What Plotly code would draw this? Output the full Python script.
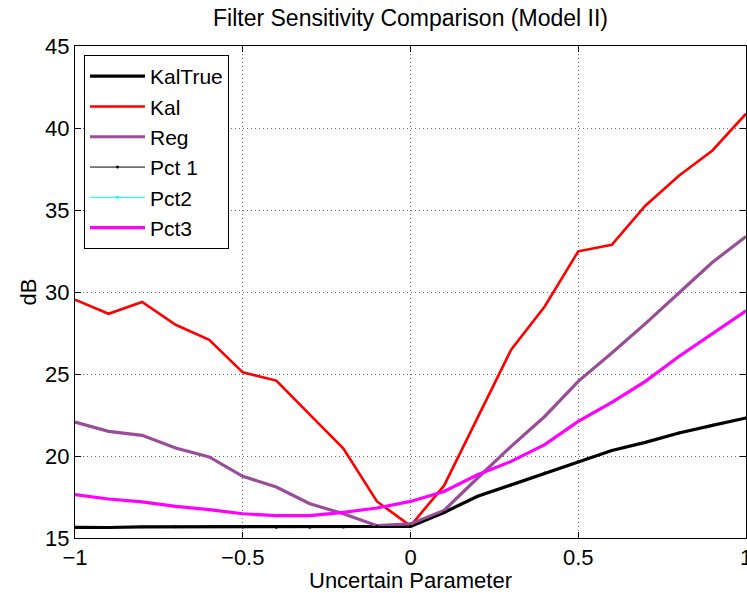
import plotly.graph_objects as go

x_vals = [-1.0, -0.9, -0.8, -0.7, -0.6, -0.5, -0.4, -0.3, -0.2, -0.1, 0.0,
          0.1, 0.2, 0.3, 0.4, 0.5, 0.6, 0.7, 0.8, 0.9, 1.0]

kaltrue = [15.65, 15.64, 15.68, 15.68, 15.70, 15.67, 15.66, 15.66, 15.67, 15.70, 15.71,
           16.56, 17.54, 18.25, 18.96, 19.67, 20.34, 20.83, 21.40, 21.87, 22.32]
kal = [29.53, 28.67, 29.39, 28.00, 27.09, 25.10, 24.60, 22.52, 20.45, 17.23, 15.74,
       18.19, 22.32, 26.48, 29.12, 32.48, 32.88, 35.26, 37.09, 38.63, 40.87]
reg = [22.07, 21.50, 21.26, 20.49, 19.94, 18.76, 18.11, 17.09, 16.48, 15.75, 15.86,
       16.68, 18.66, 20.59, 22.41, 24.55, 26.28, 28.07, 29.94, 31.81, 33.39]
pct1 = [15.65, 15.64, 15.68, 15.68, 15.70, 15.67, 15.66, 15.66, 15.67, 15.70, 15.71,
        16.56, 17.54, 18.25, 18.96, 19.67, 20.34, 20.83, 21.40, 21.87, 22.32]
pct2 = [17.64, 17.38, 17.20, 16.93, 16.73, 16.48, 16.36, 16.36, 16.56, 16.83, 17.23,
        17.84, 18.86, 19.67, 20.69, 22.11, 23.27, 24.55, 26.07, 27.44, 28.86]
pct3 = [17.64, 17.38, 17.20, 16.93, 16.73, 16.48, 16.36, 16.36, 16.56, 16.83, 17.23,
        17.84, 18.86, 19.67, 20.69, 22.11, 23.27, 24.55, 26.07, 27.44, 28.86]

x_ticks = [-1, -0.5, 0, 0.5, 1]
x_tick_text = ["\u22121", "\u22120.5", "0", "0.5", "1"]
y_ticks = [15, 20, 25, 30, 35, 40, 45]

FONT = "Liberation Sans, Arial, Helvetica, sans-serif"

fig = go.Figure()
fig.add_trace(go.Scatter(x=x_vals, y=kaltrue, name="KalTrue", mode="lines",
                         line=dict(color="black", width=3.2)))
fig.add_trace(go.Scatter(x=x_vals, y=kal, name="Kal", mode="lines",
                         line=dict(color="#ff0000", width=2.6)))
fig.add_trace(go.Scatter(x=x_vals, y=reg, name="Reg", mode="lines",
                         line=dict(color="#994d99", width=3.2)))
fig.add_trace(go.Scatter(x=x_vals, y=pct1, name="Pct 1", mode="lines+markers",
                         line=dict(color="black", width=1),
                         marker=dict(color="black", size=3)))
fig.add_trace(go.Scatter(x=x_vals, y=pct2, name="Pct2", mode="lines+markers",
                         line=dict(color="#00ffff", width=1),
                         marker=dict(color="#00ffff", size=3)))
fig.add_trace(go.Scatter(x=x_vals, y=pct3, name="Pct3", mode="lines",
                         line=dict(color="#ff00ff", width=3.2)))

axis_common = dict(
    showline=True, linecolor="black", linewidth=1, mirror="ticks",
    ticks="inside", ticklen=6, tickcolor="black", tickwidth=1,
    showgrid=True, gridcolor="rgba(0,0,0,0.6)", griddash="1px,3px", gridwidth=1,
    zeroline=False, tickfont=dict(family=FONT, size=22, color="black"),
    ticklabeloverflow="allow",
)

fig.update_layout(
    width=747, height=593,
    margin=dict(l=75, r=1, t=46, b=55, autoexpand=False),
    paper_bgcolor="white", plot_bgcolor="white",
    font=dict(family=FONT, size=22, color="black"),
    title=dict(text="Filter Sensitivity Comparison (Model II)",
               font=dict(family=FONT, size=23, color="black"),
               x=0.5, xref="paper", y=1 - 18 / 593, yref="container",
               xanchor="center", yanchor="middle"),
    xaxis=dict(range=[-1, 1], tickvals=x_ticks, ticktext=x_tick_text,
               title=dict(text="Uncertain Parameter", standoff=2,
                          font=dict(family=FONT, size=22, color="black")),
               automargin=False, **axis_common),
    yaxis=dict(range=[15, 45], tickvals=y_ticks,
               title=dict(text="dB", standoff=2,
                          font=dict(family=FONT, size=22, color="black")),
               automargin=False, **axis_common),
    legend=dict(x=0.0134, y=0.9817, xanchor="left", yanchor="top",
                bgcolor="white", bordercolor="black", borderwidth=1,
                font=dict(family=FONT, size=21, color="black"),
                itemwidth=55, tracegroupgap=0),
    showlegend=True,
)

fig.write_html("out.html")
